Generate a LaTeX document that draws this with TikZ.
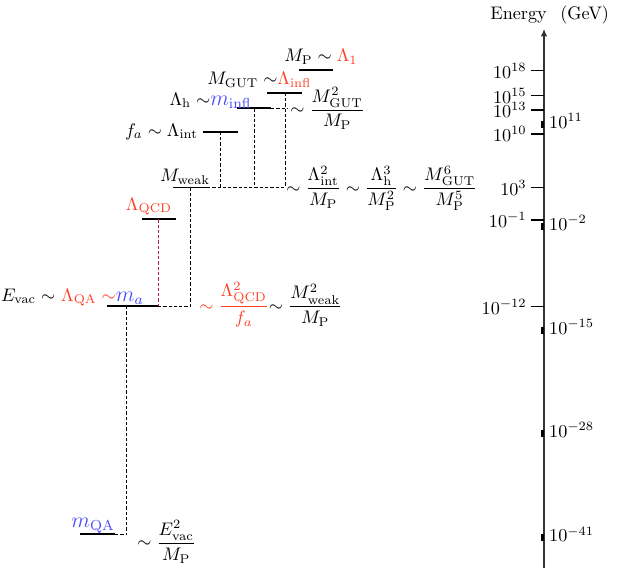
\documentclass[tikz,border=0pt]{standalone}
\usepackage{amsmath}
\usepackage{amssymb}
\usepackage{tikz}
\usetikzlibrary{arrows.meta}

\definecolor{qred}{RGB}{255,62,36}
\definecolor{qblue}{RGB}{72,72,255}
\definecolor{qpurple}{RGB}{175,30,95}

\begin{document}
\begin{tikzpicture}[>=Latex, line join=round, x=0.55pt, y=-0.55pt,
  level/.style={line width=1pt},
  link/.style={line width=0.5pt, dash pattern=on 1.8pt off 1.1pt},
  lab/.style={inner sep=0pt},
  stub/.style={line width=1.6pt}]

  \useasboundingbox (0,0) rectangle (617,570);

  %--------------------------
  % Energy axis
  %--------------------------
  \coordinate (ax-bot) at (544,568);
  \coordinate (ax-top) at (544,29);
  \draw[-{Latex[length=4pt,width=3.5pt]}, line width=0.6pt, black!80] (ax-bot) -- (ax-top);
  \node[lab, anchor=base west] (ax-title) at (490,20) {Energy\hspace{7.5pt}(GeV)};

  % ticks with labels on the left
  \foreach \e/\y in {18/70.7, 15/95.7, 13/110, 10/134, 3/187.7, -1/220, -12/306.7} {
    \draw[line width=0.8pt] (544,\y) -- (531,\y) node[left, inner sep=2pt] {$10^{\e}$};
  }

  % marks with labels on the right
  \foreach \e/\y in {11/124, -2/226, -15/330, -28/433, -41/537.5} {
    \draw[stub] (542.5,\y-3.5) -- (542.5,\y+3.5);
    \node[anchor=west, inner sep=1pt] at (547,\y-3) {$10^{\e}$};
  }

  %--------------------------
  % Levels
  %--------------------------
  \coordinate (mp-l) at (299,70);      \coordinate (mp-r) at (333,70);
  \coordinate (gut-l) at (267,92.7);   \coordinate (gut-r) at (302,92.7);
  \coordinate (h-l) at (237,108.3);    \coordinate (h-r) at (271,108.3);
  \coordinate (int-l) at (203,131.7);  \coordinate (int-r) at (238,131.7);
  \coordinate (weak-l) at (173,187.5); \coordinate (weak-r) at (207,187.5);
  \coordinate (qcd-l) at (142,219.3);  \coordinate (qcd-r) at (176,219.3);
  \coordinate (a-l) at (107,306);      \coordinate (a-r) at (158,306);
  \coordinate (qa-l) at (80,534.3);    \coordinate (qa-r) at (115,534.3);

  \foreach \lv in {mp,gut,h,int,weak,qcd,a,qa}
    \draw[level] (\lv-l) -- (\lv-r);

  % drop points and ends of the dashed links
  \coordinate (gut-d) at (285,92.7);
  \coordinate (h-d) at (254,108.3);
  \coordinate (h-x) at (288,108.3);
  \coordinate (int-d) at (220.7,131.7);
  \coordinate (weak-d) at (190,187.5);
  \coordinate (qcd-d) at (158.3,219.3);
  \coordinate (a-d) at (126.7,306);

  %--------------------------
  % Dashed links
  %--------------------------
  \draw[link] (gut-d) -- (gut-d |- weak-r);
  \draw[link] (h-r) -- (h-x);
  \draw[link] (h-d) -- (h-d |- weak-r);
  \draw[link] (int-d) -- (int-d |- weak-r);
  \draw[link] (weak-r) -- (gut-d |- weak-r);
  \draw[link] (weak-d) -- (weak-d |- a-r);
  \draw[link] (a-r) -- (weak-d |- a-r);
  \draw[link, qpurple] (qcd-d) -- (qcd-d |- a-r);
  \draw[link] (a-d) -- (a-d |- qa-r);
  \draw[link] (qa-r) -- (a-d |- qa-r);

  %--------------------------
  % Labels
  %--------------------------
  \node[lab, anchor=base east] (mp-lab) at (358,62)
    {$M_{\mathrm{P}}\sim{\color{qred}\Lambda_1}$};
  \node[lab, anchor=base east] (gut-lab) at (311.7,85)
    {$M_{\mathrm{GUT}}\sim$\textcolor{qred}{$\Lambda_{\mathrm{infl}}$}};
  \node[lab, anchor=base east] (h-lab) at (251.7,105)
    {$\Lambda_{\mathrm{h}}\sim$\textcolor{qblue}{\large$m_{\mathrm{infl}}$}};
  \node[lab, anchor=base east] (int-lab) at (198.3,136)
    {$f_a\sim\Lambda_{\mathrm{int}}$};
  \node[lab, anchor=base] (weak-lab) at (185,181.7)
    {$M_{\mathrm{weak}}$};
  \node[lab, anchor=base, text=qred] (qcd-lab) at (149,210)
    {$\Lambda_{\mathrm{QCD}}$};
  \node[lab, anchor=base east] (a-lab) at (144,301)
    {$E_{\mathrm{vac}}\sim$ \textcolor{qred}{$\Lambda_{\mathrm{QA}}\sim$}\textcolor{qblue}{\large$m_a$}};
  \node[lab, anchor=base, text=qblue] (qa-lab) at (93,527.5)
    {\large$m_{\mathrm{QA}}$};

  % relations
  \node[lab, anchor=base west] (h-rel) at (290,114.5)
    {$\sim\dfrac{M^2_{\mathrm{GUT}}}{M_{\mathrm{P}}}$};
  \node[lab, anchor=base west] (weak-rel) at (286,193)
    {$\sim\dfrac{\Lambda^2_{\mathrm{int}}}{M_{\mathrm{P}}}\sim\dfrac{\Lambda^3_{\mathrm{h}}}{M^2_{\mathrm{P}}}\sim\dfrac{M^6_{\mathrm{GUT}}}{M^5_{\mathrm{P}}}$};
  \node[lab, anchor=base west] (a-rel) at (199,311.2)
    {\textcolor{qred}{$\sim\dfrac{\Lambda^2_{\mathrm{QCD}}}{f_a}$}$\sim\dfrac{M^2_{\mathrm{weak}}}{M_{\mathrm{P}}}$};
  \node[lab, anchor=base west] (qa-rel) at (137,547.8)
    {$\sim\dfrac{E^2_{\mathrm{vac}}}{M_{\mathrm{P}}}$};

\end{tikzpicture}
\end{document}
